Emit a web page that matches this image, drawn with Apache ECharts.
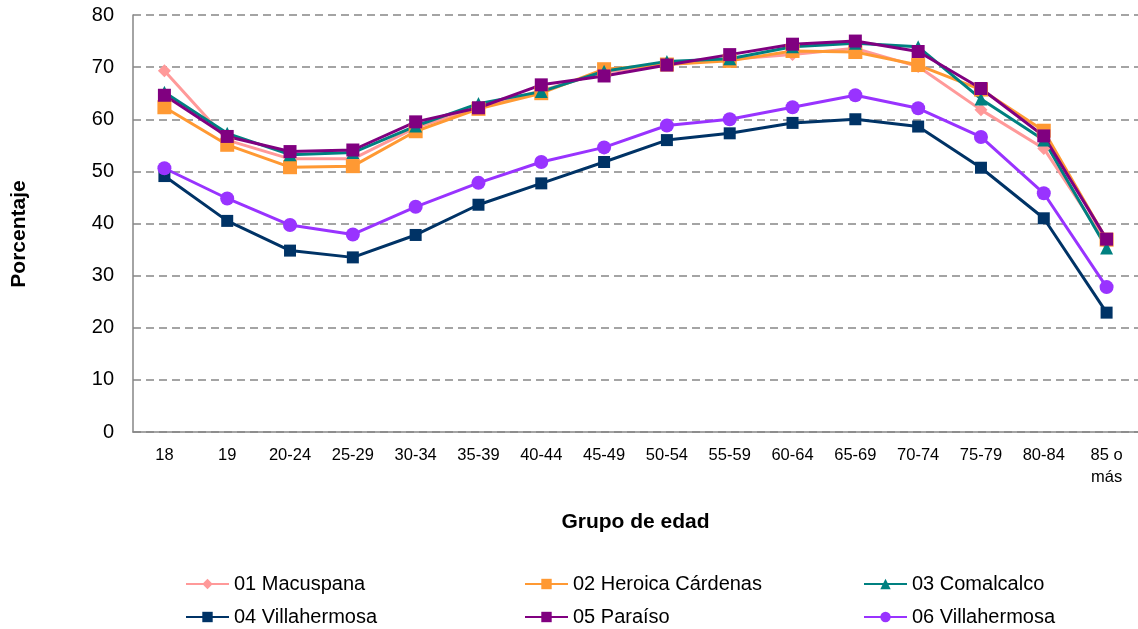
<!DOCTYPE html>
<html>
<head>
<meta charset="utf-8">
<script src="https://cdn.jsdelivr.net/npm/echarts@6/dist/echarts.min.js"></script>
<style>
  html, body { margin: 0; padding: 0; background: #fff; }
  #main { width: 1138px; height: 629px; }
</style>
</head>
<body>
<div id="main"></div>
<script>
// grupos de edad
let grupos = ["18", "19", "20-24", "25-29", "30-34", "35-39", "40-44", "45-49", "50-54", "55-59", "60-64", "65-69", "70-74", "75-79", "80-84", "85 o más"];
let yTicks = [0, 10, 20, 30, 40, 50, 60, 70, 80];

// porcentajes por distrito
let macuspana   = [69.3, 56.0, 52.4, 52.4, 58.4, 62.3, 65.5, 69.0, 70.5, 71.5, 72.4, 73.6, 70.1, 61.8, 54.4, 36.2];
let cardenas    = [62.3, 55.1, 50.8, 51.0, 57.7, 62.0, 65.0, 69.6, 70.5, 71.2, 73.1, 72.9, 70.4, 65.7, 57.8, 36.9];
let comalcalco  = [65.2, 57.3, 53.2, 53.6, 58.7, 63.0, 65.3, 69.2, 71.1, 71.6, 73.9, 74.6, 73.9, 63.9, 56.0, 35.3];
let villa04     = [49.1, 40.5, 34.8, 33.5, 37.8, 43.6, 47.7, 51.8, 56.0, 57.3, 59.3, 60.0, 58.6, 50.7, 41.0, 22.9];
let paraiso     = [64.6, 56.7, 53.8, 54.1, 59.5, 62.2, 66.6, 68.3, 70.4, 72.4, 74.4, 75.0, 73.0, 65.9, 56.8, 37.0];
let villa06     = [50.6, 44.8, 39.7, 37.9, 43.2, 47.8, 51.8, 54.6, 58.8, 60.0, 62.3, 64.6, 62.1, 56.6, 45.8, 27.8];

let myChart = echarts.init(document.getElementById('main'));

function serie(name, data, color, symbol, size){
    return {
        name: name,
        type: "line",
        data: data,
        symbol: symbol,
        symbolSize: size,
        color: color,
        lineStyle: { width: 3, color: color },
        itemStyle: { color: color },
        animation: false
    };
}

let fuente = "Liberation Sans, Arial, sans-serif";
// una leyenda por columna, dos filas cada una
let legendBase = {
    orient: "vertical",
    top: 574,
    height: 55,
    padding: 0,
    itemGap: 13,
    itemWidth: 43,
    itemHeight: 13,
    textStyle: { fontFamily: fuente, fontSize: 20, lineHeight: 20, color: "#000" }
};
let nombreEje = { fontSize: 21, fontWeight: "bold", color: "#000", fontFamily: fuente };

myChart.setOption({
    textStyle: { fontFamily: fuente },
    grid: { left: 133, top: 15, width: 1011, height: 417 },
    legend: [
        Object.assign({ left: 185, data: ["01 Macuspana", "04 Villahermosa"] }, legendBase),
        Object.assign({ left: 524, data: ["02 Heroica Cárdenas", "05 Paraíso"] }, legendBase),
        Object.assign({ left: 863, data: ["03 Comalcalco", "06 Villahermosa"] }, legendBase)
    ],
    xAxis: {
        type: "category",
        data: grupos,
        boundaryGap: true,
        name: "Grupo de edad",
        nameLocation: "middle",
        nameGap: 80,
        nameTextStyle: nombreEje,
        axisLine: { lineStyle: { color: "#868686", width: 1.5 } },
        axisTick: { show: false },
        axisLabel: {
            color: "#000",
            fontSize: 16.5,
            margin: 12,
            lineHeight: 22,
            interval: 0,
            formatter: v => v.replace(" o ", " o\n")
        }
    },
    yAxis: {
        type: "value",
        min: yTicks[0],
        max: yTicks[yTicks.length - 1],
        interval: 10,
        name: "Porcentaje",
        nameLocation: "middle",
        nameGap: 103,
        nameTextStyle: Object.assign({ padding: [0, 21, 0, 0] }, nombreEje),
        axisLine: { show: true, lineStyle: { color: "#868686", width: 1.5 } },
        axisTick: { show: false },
        axisLabel: { color: "#000", fontSize: 20, margin: 19 },
        splitLine: { lineStyle: { color: "#868686", type: [8, 5], width: 1.5 } }
    },
    series: [
        serie("01 Macuspana", macuspana, "#FF9999", "diamond", 13),
        serie("02 Heroica Cárdenas", cardenas, "#FF9933", "rect", 14),
        serie("03 Comalcalco", comalcalco, "#008080", "triangle", 13),
        serie("04 Villahermosa", villa04, "#003366", "rect", 12),
        serie("05 Paraíso", paraiso, "#800080", "rect", 13),
        serie("06 Villahermosa", villa06, "#9933FF", "circle", 14)
    ]
});
</script>
</body>
</html>
